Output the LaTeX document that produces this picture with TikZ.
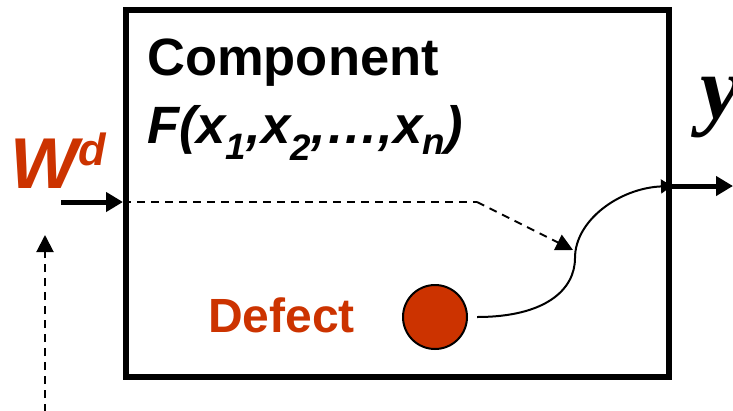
\documentclass[tikz,border=0pt]{standalone}
\usepackage{fontspec}
\setmainfont{Liberation Sans}
\newfontfamily\serifbi{Liberation Serif}
\usetikzlibrary{arrows.meta}
\definecolor{defred}{RGB}{204,51,0}
\tikzset{
  thickarrow/.style={line width=5pt,-{Triangle[length=17pt,width=19pt]}},
  dasharrow/.style={line width=2pt,dash pattern=on 8pt off 6pt,-{Triangle[length=17pt,width=17pt]}},
  curvearrow/.style={line width=2pt,-{Triangle[length=11pt,width=14pt]}},
  lbl/.style={inner sep=0pt,anchor=base west}
}
\begin{document}
\begin{tikzpicture}[x=1pt,y=-1pt]
\useasboundingbox (0,0) rectangle (733,410);
\node[draw,line width=6pt,minimum width=543pt,minimum height=367pt,inner sep=0pt] (comp) at (397.5,193.5) {};
\node[lbl] (title) at (147,75) {\fontsize{52.5}{52}\selectfont\bfseries Component};
\node[lbl] (func) at (147,143) {\fontsize{52.5}{52}\selectfont\bfseries\itshape F(x\textsubscript{1},x\textsubscript{2},\dots,x\textsubscript{n})};
\node[lbl,text=defred] (wd) at (10,188) {\fontsize{72}{72}\selectfont\bfseries\itshape W\raisebox{23pt}{\fontsize{45}{45}\selectfont d}};
\node[lbl] (yout) at (700,118) {\serifbi\fontsize{90}{90}\selectfont\bfseries\itshape y};
\node[lbl,text=defred] (deflbl) at (208,332) {\fontsize{48}{48}\selectfont\bfseries Defect};
\node[circle,draw,line width=2pt,fill=defred,minimum size=64pt,inner sep=0pt] (defect) at (435,317) {};
\coordinate (win) at (61,202);
\coordinate (bend) at (477,202);
\coordinate (tgt) at (573,250);
\coordinate (yend) at (733,186);
\coordinate (vbot) at (45,412);
\coordinate (vtop) at (45,235);
\coordinate (cstart) at (477,317);
\coordinate (cmid) at (575,258);
\draw[thickarrow] (win) -- (comp.west |- win);
\draw[line width=2pt,dash pattern=on 8pt off 6pt] (comp.west |- win) -- (bend);
\draw[dasharrow] (bend) -- (tgt);
\draw[dasharrow] (vbot) -- (vtop);
\draw[thickarrow] (comp.east |- yend) -- (yend);
\draw[curvearrow] (cstart) .. controls (545,317) and (575,290) .. (cmid) .. controls (575,220) and (620,188) .. (comp.east |- yend);
\end{tikzpicture}
\end{document}
